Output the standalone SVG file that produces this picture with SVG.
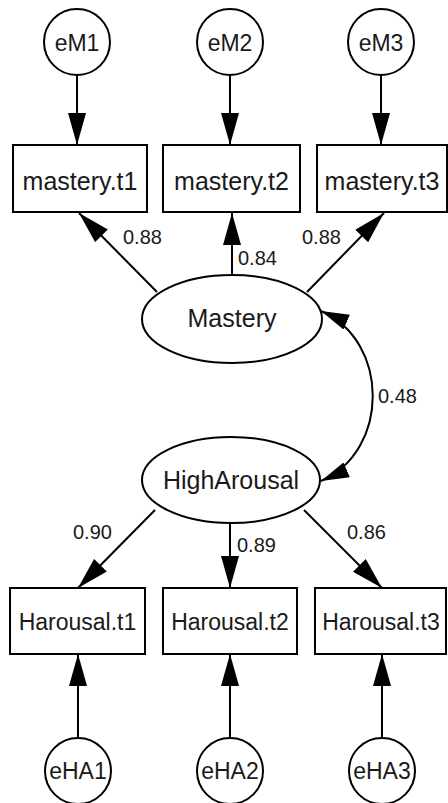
<svg xmlns="http://www.w3.org/2000/svg" width="448" height="803" viewBox="0 0 448 803">
<style>
.node{fill:#fff;stroke:#000;stroke-width:2}
.lbl{font-family:"Liberation Sans",Arial,sans-serif;fill:#1a1a1a;text-anchor:middle}
.big{font-size:25px}
.mid{font-size:23px}
.edge{font-family:"Liberation Sans",Arial,sans-serif;font-size:20px;fill:#1a1a1a}
.ln{fill:none;stroke:#000;stroke-width:2}
</style>
<defs>
<marker id="ah" markerUnits="userSpaceOnUse" markerWidth="34" markerHeight="20" refX="32" refY="9" orient="auto-start-reverse" viewBox="0 0 34 20">
<path d="M0,0 L32,9 L0,18 Z" fill="#000"/>
</marker>
<marker id="ah2" markerUnits="userSpaceOnUse" markerWidth="30" markerHeight="20" refX="28" refY="8" orient="auto-start-reverse" viewBox="0 0 30 20">
<path d="M0,0 L28,8 L0,16 Z" fill="#000"/>
</marker>
</defs>
<rect width="448" height="803" fill="#fff"/>
<g id="connectors">
<line class="ln" x1="77" y1="75" x2="77" y2="145" marker-end="url(#ah)"/>
<line class="ln" x1="230" y1="75" x2="230" y2="145" marker-end="url(#ah)"/>
<line class="ln" x1="381" y1="75" x2="381" y2="145" marker-end="url(#ah)"/>
<line class="ln" x1="157" y1="292" x2="79" y2="213" marker-end="url(#ah)"/>
<line class="ln" x1="232" y1="275" x2="232" y2="213" marker-end="url(#ah)"/>
<line class="ln" x1="307" y1="292" x2="384" y2="213" marker-end="url(#ah)"/>
<path class="ln" d="M321,311 C390,341 390,451 321,481" marker-start="url(#ah2)" marker-end="url(#ah2)"/>
<line class="ln" x1="155" y1="510" x2="78" y2="588" marker-end="url(#ah)"/>
<line class="ln" x1="230" y1="523" x2="230" y2="588" marker-end="url(#ah)"/>
<line class="ln" x1="304" y1="510" x2="382" y2="588" marker-end="url(#ah)"/>
<line class="ln" x1="78" y1="738" x2="78" y2="654" marker-end="url(#ah)"/>
<line class="ln" x1="230" y1="738" x2="230" y2="654" marker-end="url(#ah)"/>
<line class="ln" x1="382" y1="738" x2="382" y2="654" marker-end="url(#ah)"/>
<text class="edge" x="123" y="244">0.88</text>
<text class="edge" x="238" y="265">0.84</text>
<text class="edge" x="302" y="244">0.88</text>
<text class="edge" x="378" y="403">0.48</text>
<text class="edge" x="73" y="539">0.90</text>
<text class="edge" x="237" y="552">0.89</text>
<text class="edge" x="347" y="539">0.86</text>
</g>
<g id="eM1"><circle class="node" cx="77" cy="42" r="33"/><text class="lbl mid" x="77" y="51">eM1</text></g>
<g id="eM2"><circle class="node" cx="230" cy="42" r="33"/><text class="lbl mid" x="230" y="51">eM2</text></g>
<g id="eM3"><circle class="node" cx="381" cy="42" r="33"/><text class="lbl mid" x="381" y="51">eM3</text></g>
<g id="mastery.t1"><rect class="node" x="13" y="145" width="134" height="67"/><text class="lbl big" x="80" y="190">mastery.t1</text></g>
<g id="mastery.t2"><rect class="node" x="163" y="145" width="137" height="67"/><text class="lbl big" x="231.5" y="190">mastery.t2</text></g>
<g id="mastery.t3"><rect class="node" x="317" y="145" width="130" height="67"/><text class="lbl big" x="382" y="190">mastery.t3</text></g>
<g id="Mastery"><ellipse class="node" cx="232" cy="319" rx="90" ry="44"/><text class="lbl big" x="232" y="327">Mastery</text></g>
<g id="HighArousal"><ellipse class="node" cx="231" cy="480" rx="89" ry="43"/><text class="lbl big" x="231" y="489">HighArousal</text></g>
<g id="Harousal.t1"><rect class="node" x="10" y="588" width="135" height="66"/><text class="lbl mid" x="77.5" y="630">Harousal.t1</text></g>
<g id="Harousal.t2"><rect class="node" x="163" y="588" width="134" height="66"/><text class="lbl mid" x="230" y="630">Harousal.t2</text></g>
<g id="Harousal.t3"><rect class="node" x="315" y="588" width="131" height="66"/><text class="lbl mid" x="381" y="630">Harousal.t3</text></g>
<g id="eHA1"><circle class="node" cx="78" cy="771" r="33"/><text class="lbl mid" x="78" y="779">eHA1</text></g>
<g id="eHA2"><circle class="node" cx="230" cy="771" r="33"/><text class="lbl mid" x="230" y="779">eHA2</text></g>
<g id="eHA3"><circle class="node" cx="382" cy="771" r="33"/><text class="lbl mid" x="382" y="779">eHA3</text></g>
</svg>
